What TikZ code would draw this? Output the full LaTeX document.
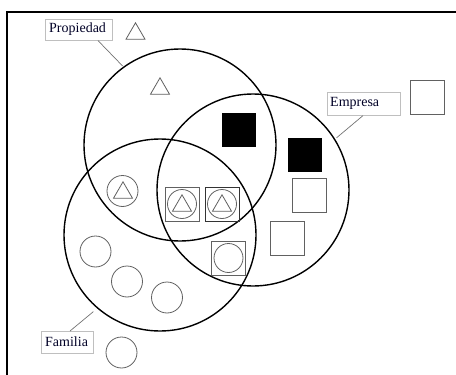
\documentclass[tikz,border=0pt]{standalone}
\usepackage{fontspec}
\setmainfont{Liberation Serif}
\usetikzlibrary{calc}
\begin{document}
\begin{tikzpicture}[x=1pt,y=-1pt,
  big/.style={draw=black,line width=1.4pt,circle,minimum size=192pt,inner sep=0pt},
  gshape/.style={draw=black!62,line width=0.8pt,inner sep=0pt},
  sq/.style={gshape,rectangle,minimum size=34pt},
  dsq/.style={sq,draw=black!80},
  fsq/.style={rectangle,fill=black,minimum size=34pt,inner sep=0pt},
  cir/.style={gshape,circle,minimum size=31pt},
  icir/.style={gshape,circle,minimum size=29pt},
  tri/.pic={\draw[gshape] (0,-8.2) -- (9.5,8.2) -- (-9.5,8.2) -- cycle;},
  lbl/.style={draw=black!25,line width=0.6pt,rectangle,inner sep=0pt,anchor=north west},
  lbltext/.style={anchor=west,inner sep=0pt,font=\fontsize{14}{16}\selectfont,text=black!85!blue},
  lead/.style={draw=black!55,line width=0.7pt}]
\useasboundingbox (0,0) rectangle (456,375);
% frame
\draw[line width=1.5pt] (7,376) -- (7,12) -- (457,12);
% big circles
\node[big] (P) at (180,145) {};
\node[big] (E) at (253,190) {};
\node[big] (F) at (160,235) {};
% labels
\node[lbl,minimum width=67pt,minimum height=21pt] (lp) at (45,19) {};
\node[lbltext] (tp) at ([xshift=4pt,yshift=0.5pt]lp.west) {Propiedad};
\node[lbl,minimum width=73pt,minimum height=23pt] (le) at (327,92) {};
\node[lbltext] (te) at ([xshift=3pt,yshift=0.5pt]le.west) {Empresa};
\node[lbl,minimum width=52pt,minimum height=22pt] (lf) at (41,331) {};
\node[lbltext] (tf) at ([xshift=4pt,yshift=0.5pt]lf.west) {Familia};
% leaders
\coordinate (pa) at ($(lp.south west)+(53,0)$);
\draw[lead] (pa) -- ($(P.center)!1.01!(P.126)$);
\coordinate (ea) at ($(le.south west)+(36,0)$);
\draw[lead] (ea) -- ($(E.center)!1.02!(E.32)$);
\coordinate (fa) at ($(lf.north west)+(29,0)$);
\draw[lead] (fa) -- ($(F.center)!1.05!(F.229)$);
% triangles only
\pic at (135.5,31) {tri};
\pic at (160,86) {tri};
% black squares
\node[fsq] (b1) at (238.5,130) {};
\node[fsq] (b2) at (305,155) {};
% empty squares
\node[sq] (s0) at (427,97.5) {};
\node[sq] (s1) at (309.5,195.5) {};
\node[sq] (s2) at (287.5,238) {};
% circle with triangle
\node[cir] (ct) at (122.5,191) {};
\pic at (123,190) {tri};
% squares with circle and triangle
\node[sq] (q1) at (182,204) {};
\node[icir] (q1c) at (182,204) {};
\pic at (182,203) {tri};
\node[dsq] (q2) at (222,204) {};
\node[icir] (q2c) at (222,204) {};
\pic at (222,203) {tri};
% square with circle
\node[sq] (q3) at (228.5,258) {};
\node[icir] (q3c) at (228.5,258) {};
% circles
\node[cir] (c1) at (95.5,251.5) {};
\node[cir] (c2) at (127,281.5) {};
\node[cir] (c3) at (167,297.5) {};
\node[cir] (c4) at (121.5,352.5) {};
\end{tikzpicture}
\end{document}
